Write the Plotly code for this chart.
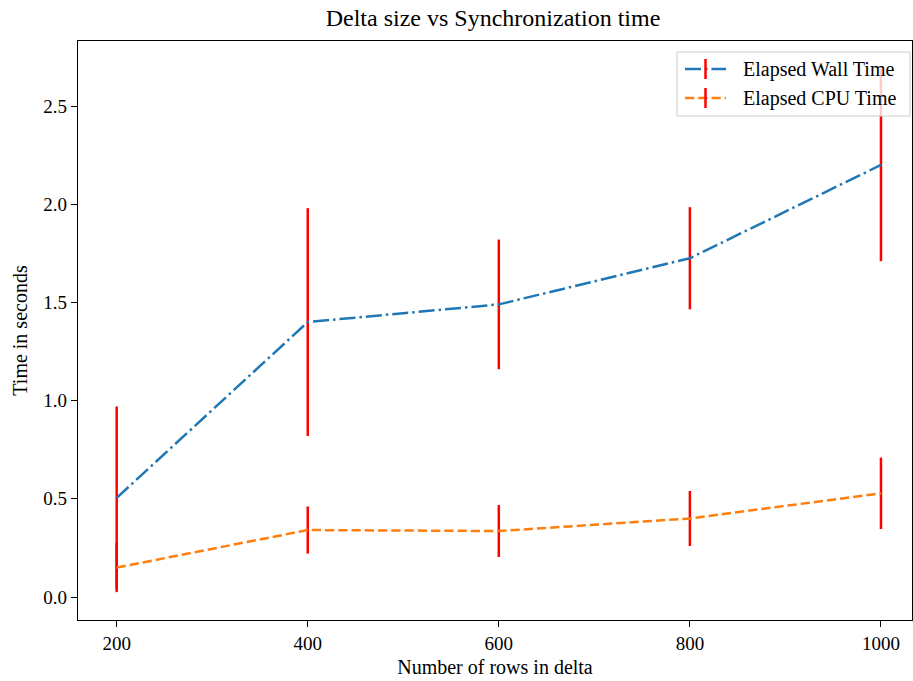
import plotly.graph_objects as go

rows = [200, 400, 600, 800, 1000]
wall_time = [0.505, 1.40, 1.49, 1.725, 2.20]
wall_err = [0.465, 0.58, 0.33, 0.26, 0.49]
cpu_time = [0.15, 0.341, 0.336, 0.40, 0.528]
cpu_err = [0.125, 0.12, 0.132, 0.14, 0.182]
series_names = ["Elapsed Wall Time", "Elapsed CPU Time"]

font_family = "Liberation Serif"
colors = ["#1f77b4", "#ff7f0e"]
dashes = ["16px,4px,2.5px,4px", "9.25px,4px"]

fig = go.Figure()
for ys, errs, name, c, d in zip([wall_time, cpu_time], [wall_err, cpu_err], series_names, colors, dashes):
    fig.add_trace(go.Scatter(
        x=rows, y=ys, mode="lines", name=name, showlegend=False,
        line=dict(color=c, width=2.5, dash=d),
        error_y=dict(type="data", array=errs, visible=True, color="red", thickness=2.5, width=0),
    ))

axis_common = dict(
    showgrid=False, zeroline=False, showline=True, linecolor="black", linewidth=1.2,
    mirror=True, ticks="outside", ticklen=6, tickwidth=1.2, tickcolor="black",
    tickfont=dict(family=font_family, size=19, color="black"),
)

# custom legend (matplotlib style, with error bar glyph)
W, H = 834.0, 579.0
def px_x(p):
    return (p - 78) / W
def px_y(p):
    return (620 - p) / H

shapes = [dict(type="rect", xref="paper", yref="paper", layer="above",
               x0=px_x(677), x1=px_x(910), y0=px_y(116), y1=px_y(52),
               fillcolor="rgba(255,255,255,0.8)", line=dict(color="#cccccc", width=1))]
annotations = []
for i, (name, c, d) in enumerate(zip(series_names, colors, dashes)):
    yc = 69 + i * 29
    shapes.append(dict(type="line", xref="paper", yref="paper", layer="above",
                       x0=px_x(685), x1=px_x(726), y0=px_y(yc), y1=px_y(yc),
                       line=dict(color=c, width=2.5, dash=d)))
    shapes.append(dict(type="line", xref="paper", yref="paper", layer="above",
                       x0=px_x(705.5), x1=px_x(705.5), y0=px_y(yc - 10), y1=px_y(yc + 10),
                       line=dict(color="red", width=2.5)))
    annotations.append(dict(xref="paper", yref="paper", x=px_x(741), y=px_y(yc),
                            xanchor="left", yanchor="middle", showarrow=False, text=name,
                            font=dict(family=font_family, size=20, color="black")))

fig.update_layout(
    width=913, height=681,
    margin=dict(l=78, r=1, t=41, b=61),
    paper_bgcolor="white", plot_bgcolor="white",
    title=dict(text="Delta size vs Synchronization time", x=0.54, xanchor="center",
               y=0.974, yanchor="middle",
               font=dict(family=font_family, size=24, color="black")),
    xaxis=dict(range=[159.5, 1032.5], tickvals=rows,
               title=dict(text="Number of rows in delta", font=dict(family=font_family, size=20, color="black"), standoff=7),
               **axis_common),
    yaxis=dict(range=[-0.117, 2.831], tickvals=[0, 0.5, 1.0, 1.5, 2.0, 2.5], ticktext=["0.0", "0.5", "1.0", "1.5", "2.0", "2.5"],
               title=dict(text="Time in seconds", font=dict(family=font_family, size=20, color="black"), standoff=10),
               **axis_common),
    shapes=shapes,
    annotations=annotations,
    showlegend=False,
)

fig.write_html("out.html")
